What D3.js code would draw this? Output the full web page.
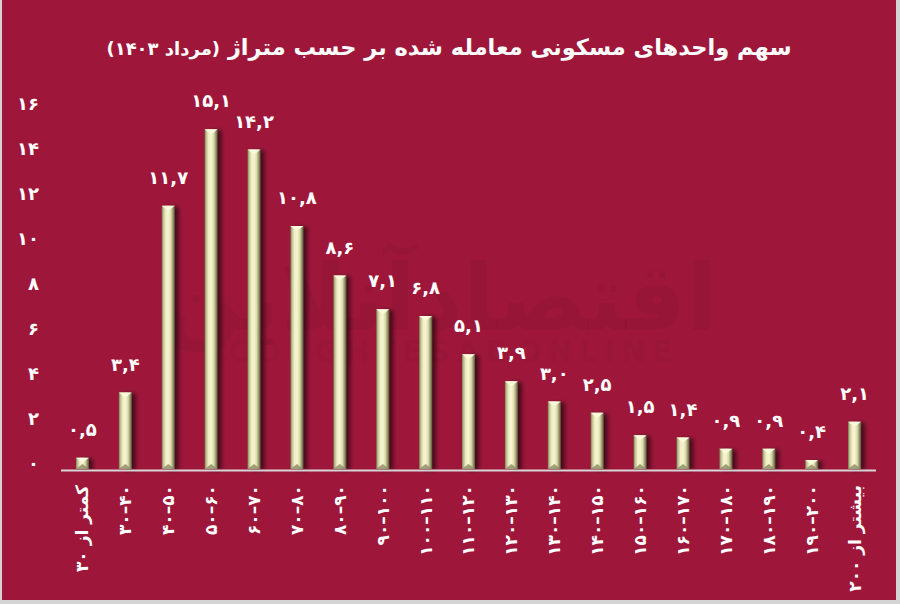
<!DOCTYPE html>
<html>
<head>
<meta charset="utf-8">
<script src="https://cdn.jsdelivr.net/npm/d3@7"></script>
<style>
  html, body { margin: 0; padding: 0; background: #d9d9d9; }
  svg { display: block; }
  text { font-family: "DejaVu Sans", "Noto Sans", sans-serif; font-weight: bold; fill: #ffffff; }
</style>
</head>
<body>
<script>
const D = "\u200E\u2013\u200E";
const categories = ["کمتر از ۳۰","۳۰"+D+"۴۰","۴۰"+D+"۵۰","۵۰"+D+"۶۰","۶۰"+D+"۷۰","۷۰"+D+"۸۰","۸۰"+D+"۹۰","۹۰"+D+"۱۰۰","۱۰۰"+D+"۱۱۰","۱۱۰"+D+"۱۲۰","۱۲۰"+D+"۱۳۰","۱۳۰"+D+"۱۴۰","۱۴۰"+D+"۱۵۰","۱۵۰"+D+"۱۶۰","۱۶۰"+D+"۱۷۰","۱۷۰"+D+"۱۸۰","۱۸۰"+D+"۱۹۰","۱۹۰"+D+"۲۰۰","بیشتر از ۲۰۰"];
const values = [0.5, 3.4, 11.7, 15.1, 14.2, 10.8, 8.6, 7.1, 6.8, 5.1, 3.9, 3.0, 2.5, 1.5, 1.4, 0.9, 0.9, 0.4, 2.1];
const yTicks = [0, 2, 4, 6, 8, 10, 12, 14, 16];
const title = "سهم واحدهای مسکونی معامله شده بر حسب متراژ ";
const titleSub = "(مرداد ۱۴۰۳)";

const fa = s => String(s).replace(/\d/g, d => "۰۱۲۳۴۵۶۷۸۹"[d]);
const fmtVal = v => fa(v.toFixed(1)).replace(".", ",");

const W = 900, H = 604;
const svg = d3.select("body").append("svg").attr("width", W).attr("height", H);

// background + border
svg.append("rect").attr("x", 0).attr("y", 0).attr("width", W).attr("height", H).attr("fill", "#d4d4d4");
svg.append("rect").attr("x", 2).attr("y", 0).attr("width", 894).attr("height", 600).attr("fill", "#9e173b");

const defs = svg.append("defs");
const g = defs.append("linearGradient").attr("id", "barGrad").attr("x1", "0%").attr("x2", "100%").attr("y1", "0%").attr("y2", "0%");
[[0, "#7a7a52"], [0.12, "#bdbd90"], [0.3, "#efeec4"], [0.5, "#f6f5d0"], [0.7, "#dddcae"], [0.86, "#9a9a70"], [1, "#55553a"]]
  .forEach(([o, c]) => g.append("stop").attr("offset", o).attr("stop-color", c));
const f = defs.append("filter").attr("id", "shadow").attr("x", "-50%").attr("y", "-10%").attr("width", "250%").attr("height", "130%");
f.append("feDropShadow").attr("dx", 4).attr("dy", 1).attr("stdDeviation", 2.2).attr("flood-color", "#000").attr("flood-opacity", 0.55);

// watermark (logo)
svg.append("text").attr("x", 440).attr("y", 330).attr("text-anchor", "middle")
  .attr("direction", "rtl").style("font-size", "92px").style("fill", "#000").style("fill-opacity", 0.045)
  .text("اقتصادآنلاین");
svg.append("text").attr("x", 440).attr("y", 362).attr("text-anchor", "middle")
  .style("font-size", "30px").style("letter-spacing", "6px").style("fill", "#000").style("fill-opacity", 0.045)
  .text("ECOEGHTESADONLINE");

const x = d3.scaleBand().domain(categories).range([61, 876]).paddingInner(0).paddingOuter(0);
const y = d3.scaleLinear().domain([0, 16]).range([469, 109]);
const bw = 13;

// title
const t = svg.append("text").attr("x", 449).attr("y", 55).attr("text-anchor", "middle").attr("direction", "rtl")
  .style("font-size", "22.5px");
t.append("tspan").text(title);
t.append("tspan").style("font-size", "18px").text(titleSub);

// y tick labels (no axis line)
const yAxis = d3.axisLeft(y).tickValues(yTicks).tickSize(0).tickFormat(d => fa(d));
const ya = svg.append("g").attr("transform", "translate(39,0)").call(yAxis);
ya.select(".domain").remove();
ya.selectAll("text").attr("x", 0).attr("dy", "0.05em").style("font-size", "18px").style("font-family", "DejaVu Sans").style("font-weight", "bold").attr("fill", "#fff");

// bars
const bars = svg.append("g");
categories.forEach((c, i) => {
  const cx = x(c) + x.bandwidth() / 2;
  const top = y(values[i]), bot = y(0);
  const h = bot - top;
  const bg = bars.append("g");
  bg.append("rect").attr("x", cx - bw / 2).attr("y", top).attr("width", bw).attr("height", h)
    .attr("fill", "url(#barGrad)").attr("filter", "url(#shadow)");
  const tri = Math.min(5, h / 2);
  bg.append("path").attr("d", `M${cx - bw / 2},${top} L${cx + bw / 2},${top} L${cx},${top + tri} Z`).attr("fill", "#fbfadc");
  bg.append("path").attr("d", `M${cx - bw / 2},${bot} L${cx + bw / 2},${bot} L${cx},${bot - tri} Z`).attr("fill", "#8c8b64").attr("opacity", 0.8);
});

// value labels
svg.append("g").selectAll("text").data(categories).join("text")
  .attr("x", c => x(c) + x.bandwidth() / 2)
  .attr("y", (c, i) => y(values[i]) - 22)
  .attr("text-anchor", "middle")
  .style("font-size", "18px")
  .text((c, i) => fmtVal(values[i]));

// x axis line
svg.append("line").attr("x1", 61).attr("x2", 876).attr("y1", 470.5).attr("y2", 470.5).attr("stroke", "#d6d6d6").attr("stroke-width", 2);

// x labels
svg.append("g").selectAll("text").data(categories).join("text")
  .attr("transform", c => `translate(${x(c) + x.bandwidth() / 2},485) rotate(-90)`)
  .attr("text-anchor", "end")
  .attr("dy", "0.35em")
  .style("font-size", "17px")
  .text(c => c);
</script>
</body>
</html>
